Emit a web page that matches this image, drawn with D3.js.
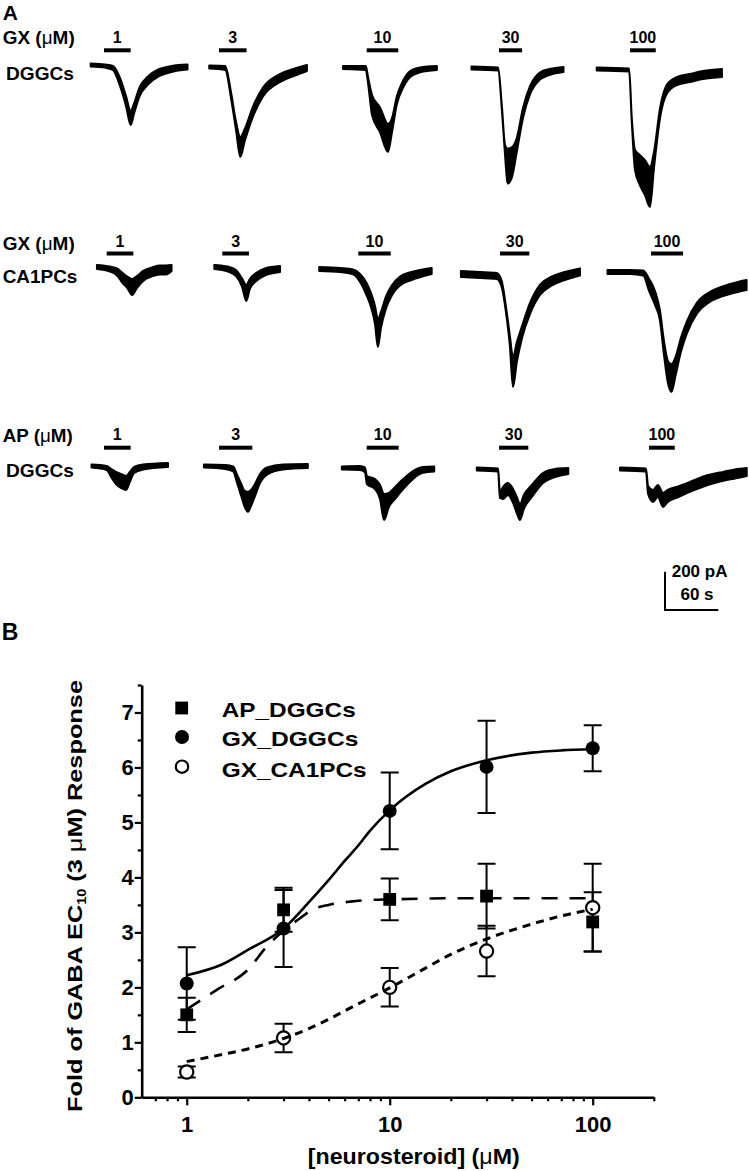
<!DOCTYPE html>
<html>
<head>
<meta charset="utf-8">
<script src="https://cdn.jsdelivr.net/npm/d3@7"></script>
<style>
  body { margin: 0; background: #fff; }
  svg { display: block; }
  text { font-family: "Liberation Sans", Arial, sans-serif; font-weight: bold; fill: #000; }
</style>
</head>
<body>
<div id="chart"></div>
<script>
// ---- panel A data ----
const concentrations = [1, 3, 10, 30, 100];
const rowDrug = ["GX", "GX", "AP"];
const rowCell = ["DGGCs", "CA1PCs", "DGGCs"];
// application time (s) of each drug bar
const applyDuration = [
    [30, 31, 35.5, 26, 29],
    [30, 30, 36.5, 33, 36],
    [30, 37.5, 36, 33, 29]
];
// each trace: [time from application onset (s), mean current (pA), noise peak-to-peak (pA)]
const tracesGX_DGGC = [
    [[-15,16,16],[1,10,16],[10,0,21],[18,-73,42],[25,-177,52],[30,-261,73],[34,-209,52],[40,-125,47],[50,-63,42],[61,-26,37],[76,-5,31],[94,5,26]],
    [[-11,5,16],[7,0,21],[13.5,-141,31],[19,-298,42],[24,-412,104],[29,-350,63],[38,-230,52],[49.5,-125,47],[69,-52,42],[85.5,-21,37],[99,0,31]],
    [[-26.7,3,16],[-1,0,21],[1.5,-63,31],[6,-193,104],[15,-271,130],[24,-365,146],[28.5,-298,73],[34,-167,42],[41,-84,37],[49,-31,31],[60,-10,26],[79,0,21]],
    [[-31,0,16],[-1,-5,16],[3.4,-219,21],[6.8,-428,52],[9.6,-512,183],[14.6,-491,157],[20,-402,73],[27,-235,52],[35,-115,42],[46,-42,37],[57,-21,31],[72.6,-8,26]],
    [[-37.5,-5,16],[-1,-10,16],[2,-271,21],[5.6,-480,104],[11,-532,157],[17,-574,183],[22.5,-621,209],[27,-480,84],[34,-230,52],[41.6,-110,47],[53,-68,42],[67.5,-52,42],[82,-37,42],[103.5,-26,42]]
];
const tracesGX_CA1 = [
    [[-11,16,21],[3.7,5,26],[11.6,-10,37],[18,-42,52],[24,-68,63],[28.5,-89,84],[34,-63,63],[41,-31,52],[51,-10,47],[60,0,47],[66.7,0,47],[73,10,31]],
    [[-9,16,21],[6.4,5,26],[15.4,-16,31],[22,-63,42],[27,-120,84],[31,-73,52],[38,-37,42],[48,-10,37],[65,5,31]],
    [[-44,5,21],[-20.6,0,21],[-6,-10,26],[2,-42,42],[8.7,-94,63],[14.3,-157,73],[18.8,-235,94],[22,-329,146],[25.5,-261,84],[31,-172,63],[38,-104,52],[47,-57,47],[60,-31,42],[82.6,-5,31]],
    [[-44,-21,31],[-22.5,-26,31],[-3.7,-31,31],[2.2,-78,31],[6.8,-209,31],[11,-365,52],[14.6,-532,157],[19,-428,104],[24.8,-324,63],[34,-198,57],[45,-104,52],[58.5,-57,47],[73,-31,42],[90,-10,37]],
    [[-49,-10,21],[-23.6,-10,21],[-8.7,-16,26],[-2.2,-78,63],[4.5,-146,73],[10,-235,52],[14.6,-407,73],[19,-532,115],[23,-564,146],[28,-496,94],[33.6,-392,73],[40.5,-298,63],[51.8,-198,57],[66,-141,52],[89,-99,52],[107.6,-78,52]]
];
const tracesAP_DGGC = [
    [[-14,10,16],[3,0,21],[8,-26,42],[13.5,-52,63],[19,-68,73],[25,-78,73],[29,-47,52],[34,-10,31],[44,5,26],[72,16,21]],
    [[-17,10,16],[7,5,21],[16,-5,26],[20,-52,42],[25,-115,63],[29,-162,84],[32.6,-177,104],[36,-157,84],[40.5,-115,63],[46,-57,47],[54,-16,37],[72,5,26],[100,10,21]],
    [[-28,0,16],[-7.5,0,21],[-2,-10,26],[0.3,-63,42],[9.3,-84,52],[15,-125,73],[19.5,-204,136],[25,-167,73],[32,-130,63],[41,-84,52],[52,-37,42],[63,-10,31],[76,-5,26]],
    [[-25,-5,16],[-1,-10,16],[1,-141,31],[4.5,-130,63],[10,-110,63],[15.8,-146,73],[20,-193,84],[23.6,-230,84],[28,-177,73],[37,-120,63],[49.5,-52,52],[63,-26,42],[78,-16,31]],
    [[-32.6,-5,16],[-3.4,-10,16],[-1,-115,42],[4.5,-146,63],[10,-120,63],[15.8,-167,73],[21,-146,63],[32.6,-125,57],[46,-99,52],[63,-68,52],[80,-47,47],[96.7,-31,47],[110,-21,42]]
];
const scaleBarCurrent = 200; // pA
const scaleBarTime = 60;     // s

// ---- panel B data ----
const seriesNames = ["AP_DGGCs", "GX_DGGCs", "GX_CA1PCs"];
const doses = [1, 3, 10, 30, 100];
const apMean = [1.5, 3.41, 3.6, 3.66, 3.19];
const apErr = [0.31, 0.4, 0.38, 0.59, 0.54];
const gxDgMean = [2.07, 3.07, 5.21, 6.01, 6.35];
const gxDgErr = [0.66, 0.7, 0.7, 0.84, 0.42];
const gxCaMean = [0.46, 1.08, 2.0, 2.66, 3.45];
const gxCaErr = [0.1, 0.26, 0.35, 0.46, 0.8];
// fitted curves: [dose, response]
const apFit = [[1,1.6],[1.4,1.95],[2,2.32],[2.5,2.76],[3,3.03],[3.5,3.22],[4.2,3.42],[5,3.5],[6.4,3.56],[8,3.59],[10,3.6],[20,3.62],[50,3.62],[100,3.62]];
const gxDgFit = [[1,2.22],[1.5,2.42],[2,2.68],[3,3.07],[4,3.55],[5,3.95],[6,4.3],[7,4.58],[8,4.85],[10,5.22],[15,5.7],[20,5.93],[30,6.13],[50,6.27],[70,6.31],[100,6.33]];
const gxCaFit = [[1,0.65],[1.5,0.78],[2,0.88],[3,1.07],[4,1.25],[5,1.42],[7,1.7],[10,1.99],[15,2.35],[20,2.6],[30,2.88],[50,3.15],[70,3.3],[100,3.42]];
const yTicks = [0, 1, 2, 3, 4, 5, 6, 7];
const yMinorTicks = [0.5, 1.5, 2.5, 3.5, 4.5, 5.5, 6.5, 7.5];
const xTicks = [1, 10, 100];
const xMinorTicks = [0.7, 0.8, 0.9, 2, 3, 4, 5, 6, 7, 8, 9, 20, 30, 40, 50, 60, 70, 80, 90, 200];

// ---- layout ----
const W = 749, H = 1171;
const rows = [
    { drugY: 44, cellY: 80, barY: 50.3, concY: 42.7, base: 68, starts: [104, 219, 366.7, 499, 630], drugLen: 72, cellLen: 68, cellX: 6 },
    { drugY: 250, cellY: 283.3, barY: 253.5, concY: 246.7, base: 270, starts: [106.7, 222.3, 358.3, 500, 651], drugLen: 72, cellLen: 74.7, cellX: 2.7 },
    { drugY: 441.7, cellY: 477.3, barY: 447.7, concY: 440, base: 468, starts: [104, 219, 366.7, 499, 649], drugLen: 70, cellLen: 68, cellX: 6 }
];
const pxPer60s = 53.3, pxPer200pA = 38.3;
const allTraces = [tracesGX_DGGC, tracesGX_CA1, tracesAP_DGGC];

const svg = d3.select("#chart").append("svg")
    .attr("width", W).attr("height", H);

// ===== Panel A =====
svg.append("text").attr("x", 2.7).attr("y", 20).style("font-size", "21px").text("A");

rows.forEach((row, r) => {
    const lab = svg.append("text").attr("x", 2.7).attr("y", row.drugY)
        .style("font-size", "19px")
        .attr("textLength", row.drugLen).attr("lengthAdjust", "spacingAndGlyphs");
    lab.append("tspan").text(rowDrug[r] + " (");
    lab.append("tspan").style("font-weight", "normal").text("μ");
    lab.append("tspan").text("M)");

    svg.append("text").attr("x", row.cellX).attr("y", row.cellY)
        .style("font-size", "19px")
        .attr("textLength", row.cellLen).attr("lengthAdjust", "spacingAndGlyphs")
        .text(rowCell[r]);

    allTraces[r].forEach((trace, c) => {
        const x0 = row.starts[c];
        const t = d3.scaleLinear().domain([0, scaleBarTime]).range([x0, x0 + pxPer60s]);
        const i = d3.scaleLinear().domain([0, -scaleBarCurrent]).range([row.base, row.base + pxPer200pA]);

        // drug application bar + label
        svg.append("rect")
            .attr("x", t(0)).attr("y", row.barY - 2)
            .attr("width", t(applyDuration[r][c]) - t(0)).attr("height", 4)
            .attr("fill", "#000");
        svg.append("text")
            .attr("x", (t(0) + t(applyDuration[r][c])) / 2).attr("y", row.concY)
            .attr("text-anchor", "middle").style("font-size", "16px")
            .text(concentrations[c]);

        const area = d3.area()
            .x(d => t(d[0]))
            .y0(d => i(d[1] + d[2] / 2))
            .y1(d => i(d[1] - d[2] / 2))
            .curve(d3.curveMonotoneX);
        svg.append("path")
            .datum(trace)
            .attr("d", area)
            .attr("fill", "#000")
            .attr("stroke", "#000")
            .attr("stroke-width", 2)
            .attr("stroke-linejoin", "round");
    });
});

// scale bar
{
    const sx = 665, sy = 610;
    const t = d3.scaleLinear().domain([0, scaleBarTime]).range([sx, sx + pxPer60s]);
    const i = d3.scaleLinear().domain([0, scaleBarCurrent]).range([sy, sy - pxPer200pA]);
    svg.append("path")
        .attr("d", `M${t(0)},${i(scaleBarCurrent)}V${i(0)}H${t(scaleBarTime)}`)
        .attr("fill", "none").attr("stroke", "#000").attr("stroke-width", 2);
    svg.append("text").attr("x", 671.7).attr("y", 577).style("font-size", "17px").text(scaleBarCurrent + " pA");
    svg.append("text").attr("x", 697).attr("y", 600).attr("text-anchor", "middle").style("font-size", "17px").text(scaleBarTime + " s");
}

// ===== Panel B =====
svg.append("text").attr("x", 1.7).attr("y", 640).style("font-size", "23px").text("B");

const x = d3.scaleLog().domain([0.6, 200]).range([141.7, 653.8]);
const y = d3.scaleLinear().domain([0, 7.5]).range([1097.3, 685]);

svg.append("g")
    .attr("transform", `translate(${x(0.6)},0)`)
    .call(d3.axisLeft(y).tickValues(yTicks).tickSize(7).tickSizeOuter(0).tickPadding(1).tickFormat(d3.format("d")));
svg.append("g")
    .attr("transform", `translate(${x(0.6)},0)`)
    .call(d3.axisLeft(y).tickValues(yMinorTicks).tickSize(4).tickSizeOuter(0).tickFormat(""))
    .select(".domain").remove();

svg.append("g")
    .attr("transform", `translate(0,${y(0)})`)
    .call(d3.axisBottom(x).tickValues(xTicks).tickSize(8).tickSizeOuter(0).tickPadding(11).tickFormat(d3.format("d")));
svg.append("g")
    .attr("transform", `translate(0,${y(0)})`)
    .call(d3.axisBottom(x).tickValues(xMinorTicks).tickSize(4).tickSizeOuter(0).tickFormat(""))
    .select(".domain").remove();

svg.selectAll(".domain").attr("stroke", "#000").attr("stroke-width", 2.6);
svg.selectAll(".tick line").attr("stroke", "#000").attr("stroke-width", 2.2);
svg.selectAll(".tick text")
    .style("font-family", '"Liberation Sans", Arial, sans-serif')
    .style("font-weight", "bold").style("font-size", "22px").attr("fill", "#000");

// axis titles
{
    const xt = svg.append("text")
        .attr("x", 413.8).attr("y", 1163.5).attr("text-anchor", "middle")
        .style("font-size", "22px")
        .attr("textLength", 212).attr("lengthAdjust", "spacingAndGlyphs");
    xt.append("tspan").text("[neurosteroid] (");
    xt.append("tspan").style("font-weight", "normal").text("μ");
    xt.append("tspan").text("M)");

    const yt = svg.append("text")
        .attr("transform", "translate(81.7,896) rotate(-90)")
        .attr("text-anchor", "middle")
        .style("font-size", "21px")
        .attr("textLength", 432).attr("lengthAdjust", "spacingAndGlyphs");
    yt.append("tspan").text("Fold of GABA EC");
    yt.append("tspan").style("font-size", "12px").attr("dy", 4).text("10");
    yt.append("tspan").attr("dy", -4).text(" (3 ");
    yt.append("tspan").style("font-weight", "normal").text("μ");
    yt.append("tspan").text("M) Response");
}

// curves
const line = d3.line().x(d => x(d[0])).y(d => y(d[1])).curve(d3.curveMonotoneX);
const plot = svg.append("g");

// error bars
function errorBars(mean, err) {
    doses.forEach((d, k) => {
        const cx = x(d);
        const top = y(mean[k] + err[k]), bot = y(mean[k] - err[k]);
        plot.append("path")
            .attr("d", `M${cx},${top}V${bot}M${cx - 9},${top}H${cx + 9}M${cx - 9},${bot}H${cx + 9}`)
            .attr("fill", "none").attr("stroke", "#000").attr("stroke-width", 2);
    });
}
errorBars(apMean, apErr);
errorBars(gxDgMean, gxDgErr);
errorBars(gxCaMean, gxCaErr);

// open circles (under the lines)
plot.selectAll(".ca").data(doses).join("circle")
    .attr("cx", d => x(d)).attr("cy", (d, k) => y(gxCaMean[k])).attr("r", 6.6)
    .attr("fill", "#fff").attr("stroke", "#000").attr("stroke-width", 2.2);

plot.append("path").datum(gxDgFit).attr("d", line)
    .attr("fill", "none").attr("stroke", "#000").attr("stroke-width", 2.6);
plot.append("path").datum(apFit).attr("d", line)
    .attr("fill", "none").attr("stroke", "#000").attr("stroke-width", 2.6).attr("stroke-dasharray", "16,12");
plot.append("path").datum(gxCaFit).attr("d", line)
    .attr("fill", "none").attr("stroke", "#000").attr("stroke-width", 3).attr("stroke-dasharray", "8,6");

// filled markers
plot.selectAll(".ap").data(doses).join("rect")
    .attr("x", d => x(d) - 6.4).attr("y", (d, k) => y(apMean[k]) - 6.4)
    .attr("width", 12.8).attr("height", 12.8).attr("fill", "#000");
plot.selectAll(".dg").data(doses).join("circle")
    .attr("cx", d => x(d)).attr("cy", (d, k) => y(gxDgMean[k])).attr("r", 7)
    .attr("fill", "#000");

// legend
const legendY = [708, 737, 766.7];
const legendBase = [716.7, 746, 776.7];
const legendLen = [134, 136.7, 145];
const legend = svg.append("g");
legend.append("rect").attr("x", 181.7 - 6.4).attr("y", legendY[0] - 6.4).attr("width", 12.8).attr("height", 12.8).attr("fill", "#000");
legend.append("circle").attr("cx", 182).attr("cy", legendY[1]).attr("r", 7).attr("fill", "#000");
legend.append("circle").attr("cx", 182).attr("cy", legendY[2]).attr("r", 6.2).attr("fill", "#fff").attr("stroke", "#000").attr("stroke-width", 2.2);
seriesNames.forEach((name, k) => {
    legend.append("text").attr("x", 221.7).attr("y", legendBase[k])
        .style("font-size", "21px")
        .attr("textLength", legendLen[k]).attr("lengthAdjust", "spacingAndGlyphs")
        .text(name);
});
</script>
</body>
</html>
